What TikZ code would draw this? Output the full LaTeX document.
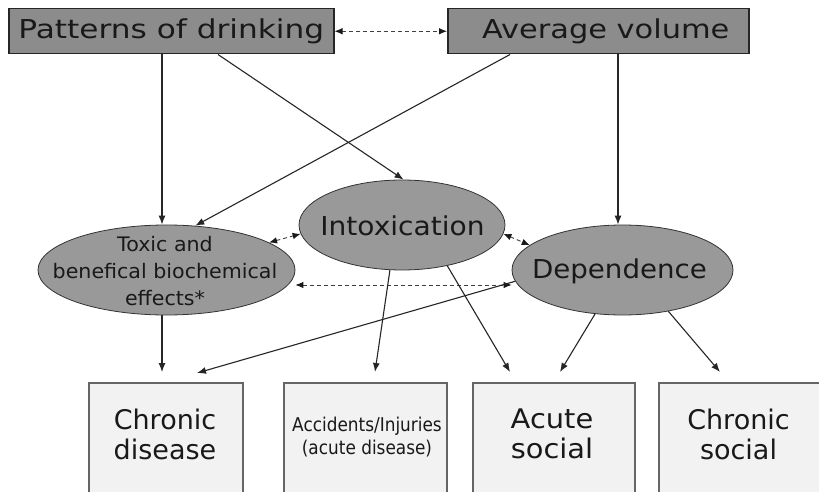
\documentclass[tikz,border=0pt]{standalone}
\usepackage{fontspec}
\setmainfont{DejaVu Sans}
\usetikzlibrary{shapes.geometric,arrows.meta,calc}
\definecolor{topfill}{HTML}{8C8C8C}
\definecolor{ovalfill}{HTML}{999999}
\definecolor{outfill}{HTML}{F2F2F2}
\newcommand\hsc[2]{\scalebox{#1}[1]{#2}}
\begin{document}
\begin{tikzpicture}[x=1pt,y=-1pt,
  topbox/.style={draw=black!85, line width=1.5pt, fill=topfill, minimum height=45pt, inner sep=0pt, anchor=north west, text=black!90},
  ovalshape/.style={ellipse, draw=black!80, line width=0.8pt, fill=ovalfill, inner sep=0pt},
  outbox/.style={draw=black!60, line width=1.8pt, fill=outfill, anchor=north west, inner sep=0pt, minimum height=130pt},
  conn/.style={draw=black!85, line width=1.1pt, -{Latex[length=9pt,width=7pt]}},
  dconn/.style={draw=black!75, line width=0.9pt, dash pattern=on 4pt off 3pt, {Latex[length=8pt,width=6.5pt,color=black!90]}-{Latex[length=8pt,width=6.5pt,color=black!90]}},
  lbl/.style={text=black!90, align=center, inner sep=0pt}
]
\useasboundingbox (0,0) rectangle (819,492);
\fill[white] (0,0) rectangle (819,492);

% top boxes
\node[topbox, minimum width=325pt, font=\fontsize{26}{30}\selectfont] (pat) at (8,8) {\raisebox{-1.5pt}{\hsc{1.2}{Patterns of drinking}}};
\node[topbox, minimum width=301pt, font=\fontsize{26}{30}\selectfont] (avg) at (447,8) {\hspace*{15pt}\raisebox{-1.5pt}{\hsc{1.17}{Average volume}}};

% ellipses
\node[ovalshape, minimum width=257pt, minimum height=90pt] (tox) at (166.5,270) {};
\node[ovalshape, minimum width=206pt, minimum height=90pt] (intox) at (402,225) {};
\node[ovalshape, minimum width=221pt, minimum height=90pt] (dep) at (622.5,270) {};
\node[lbl, font=\fontsize{20}{27}\selectfont] (toxT) at (165,271.4) {\hsc{1.03}{Toxic and}\\\hsc{1.03}{benefical biochemical}\\\hsc{1.03}{effects*}};
\node[lbl, font=\fontsize{26}{30}\selectfont] (intoxT) at (402.5,225.5) {\hsc{1.08}{Intoxication}};
\node[lbl, font=\fontsize{26}{30}\selectfont] (depT) at (619.5,271.4) {\hsc{1.065}{Dependence}};

% outcome boxes
\begin{scope}
\clip (0,0) rectangle (819,492);
\node[outbox, minimum width=154pt] (cd) at (88,382) {};
\node[outbox, minimum width=163pt] (acc) at (283,382) {};
\node[outbox, minimum width=162pt] (acute) at (472,382) {};
\node[outbox, minimum width=168pt] (csoc) at (658,382) {};
\end{scope}
\node[lbl, font=\fontsize{27}{30}\selectfont] (cdT) at (165,434) {\hsc{1.0}{Chronic}\\\hsc{1.0}{disease}};
\node[lbl, font=\fontsize{19}{23}\selectfont] (accT) at (367,437.5) {\hsc{0.89}{Accidents/Injuries}\\\hsc{0.89}{(acute disease)}};
\node[lbl, font=\fontsize{27}{30}\selectfont] (acuteT) at (552,434) {\hsc{1.07}{Acute}\\\hsc{1.07}{social}};
\node[lbl, font=\fontsize{27}{30}\selectfont] (csocT) at (738.5,434) {\hsc{1.0}{Chronic}\\\hsc{1.0}{social}};

% connectors
\coordinate (pA) at ([xshift=154]pat.south west);
\coordinate (pB) at ([xshift=210]pat.south west);
\coordinate (aA) at ([xshift=63]avg.south west);
\coordinate (aB) at ([xshift=171]avg.south west);
\coordinate (tB) at (pA |- tox.south);
\draw[conn] (pA) -- (pA |- tox.north);
\draw[conn] (pB) -- (intox.88);
\draw[conn] (aA) -- (tox.57);
\draw[conn] (aB) -- (aB |- dep.north);
\draw[dconn] (pat.east) -- (avg.west);
\draw[dconn] (tox.15) -- (intox.185);
\draw[dconn] (intox.-5) -- (dep.165);
\draw[dconn] ([yshift=-15]tox.east) -- ([yshift=-15]dep.west);
\draw[conn] (tB) -- ([xshift=74,yshift=10]cd.north west);
\draw[conn] (dep.186) -- ([xshift=109,yshift=9]cd.north west);
\draw[conn] (intox.255) -- ([xshift=92,yshift=10]acc.north west);
\draw[conn] (intox.-42) -- ([xshift=38,yshift=10]acute.north west);
\draw[conn] (dep.-122) -- ([xshift=88,yshift=10]acute.north west);
\draw[conn] (dep.-42) -- ([xshift=62,yshift=10]csoc.north west);
\end{tikzpicture}
\end{document}
